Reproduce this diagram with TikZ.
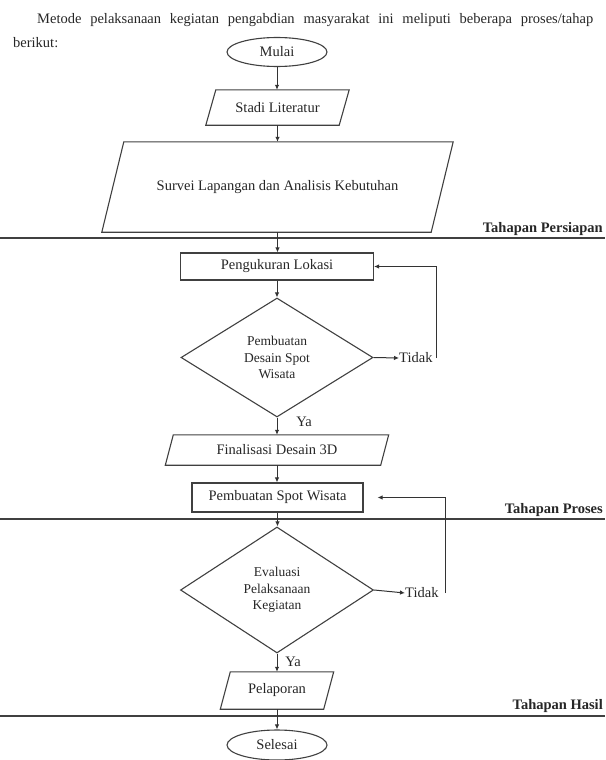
\documentclass[tikz,border=0pt]{standalone}
\usepackage{fontspec}
\setmainfont{Liberation Serif}
\usetikzlibrary{shapes.geometric,arrows.meta}
\newcommand{\myparaoutline}[2]{%
  \draw[ln] ([xshift=-#2/2]#1.south west) -- ([xshift=-#2/2]#1.south east)
    -- ([xshift=#2/2]#1.north east) -- ([xshift=#2/2]#1.north west) -- cycle;}
\begin{document}
\begin{tikzpicture}[x=1pt,y=-1pt,
  every node/.style={text=black!85},
  font=\fontsize{14.5}{17}\selectfont,
  ln/.style={draw=black!75, line width=1.1pt},
  arr/.style={draw=black!80, line width=1pt, -{Latex[length=5pt,width=4.5pt]}},
  procbox/.style={ln, rectangle, inner sep=0pt, align=center},
  term/.style={ln, ellipse, inner sep=0pt, minimum width=100pt, minimum height=29pt},
  para/.style={rectangle, inner sep=0pt, align=center},
  dec/.style={ln, diamond, inner sep=0pt, align=center, font=\fontsize{13.5}{16.5}\selectfont},
  stage/.style={anchor=south east, inner sep=1pt, font=\fontsize{14.5}{17}\selectfont\bfseries},
  phase/.style={draw=black!75, line width=1.6pt},
  lbl/.style={inner sep=0pt, anchor=west}
]
\useasboundingbox (0,0) rectangle (605,760);

% intro text
\node[lbl] (intro) at (37,20) {\makebox[556pt][s]{Metode pelaksanaan kegiatan pengabdian masyarakat ini meliputi beberapa proses/tahap}};
\node[lbl] (intro2) at (13,43) {berikut:};

% nodes
\node[term] (mulai) at (277,52) {Mulai};
\node[para, minimum width=133pt, minimum height=35pt] (stadi) at (277.5,107.5) {Stadi Literatur};
\myparaoutline{stadi}{10pt}
\node[para, minimum width=329pt, minimum height=90pt] (survei) at (277.5,187) {Survei Lapangan dan Analisis Kebutuhan};
\myparaoutline{survei}{22pt}
\node[procbox, minimum width=193pt, minimum height=27pt] (peng) at (277,266.5) {Pengukuran Lokasi};
\node[dec, minimum width=192pt, minimum height=119pt] (d1) at (277,357.5) {Pembuatan\\Desain Spot\\Wisata};
\node[lbl] (tidak1) at (399,358) {Tidak};
\node[inner sep=0pt] (ya1) at (304,422) {Ya};
\node[para, minimum width=215pt, minimum height=30pt] (final) at (277,450) {Finalisasi Desain 3D};
\myparaoutline{final}{8pt}
\node[procbox, minimum width=171pt, minimum height=29pt] (pemb) at (277.5,497.5) {Pembuatan Spot Wisata};
\node[dec, minimum width=193pt, minimum height=126pt] (d2) at (277,590) {Evaluasi\\Pelaksanaan\\Kegiatan};
\node[lbl] (tidak2) at (405,593) {Tidak};
\node[inner sep=0pt] (ya2) at (293,662) {Ya};
\node[para, minimum width=103pt, minimum height=37pt] (pelap) at (277,690.5) {Pelaporan};
\myparaoutline{pelap}{10pt}
\node[term, minimum height=30pt] (selesai) at (277,745) {Selesai};

% stage lines and labels
\draw[phase] (0,238) -- (605,238);
\node[stage] (s1) at (604,237) {Tahapan Persiapan};
\draw[phase] (0,519) -- (605,519);
\node[stage] (s2) at (604,518) {Tahapan Proses};
\draw[phase] (0,716) -- (605,716);
\node[stage] (s3) at (604,714) {Tahapan Hasil};

% connectors
\draw[arr] (mulai.south) -- (mulai.south |- stadi.north);
\draw[arr] (stadi.south) -- (stadi.south |- survei.north);
\draw[arr] (survei.south) -- (survei.south |- peng.north);
\draw[arr] (peng.south) -- (peng.south |- d1.north);
\draw[arr] (d1.south) -- (d1.south |- final.north);
\draw[arr] (final.south) -- (final.south |- pemb.north);
\draw[arr] (pemb.south) -- (pemb.south |- d2.north);
\draw[arr] (d2.south) -- (d2.south |- pelap.north);
\draw[arr] (pelap.south) -- (pelap.south |- selesai.north);

\draw[arr] (d1.east) -- (tidak1.west);
\draw[arr] ([xshift=4pt]tidak1.east) |- (peng.east);
\draw[arr] (d2.east) -- (tidak2.west);
\draw[arr, shorten >=14pt] ([xshift=7pt]tidak2.east) |- (pemb.east);
\end{tikzpicture}
\end{document}
